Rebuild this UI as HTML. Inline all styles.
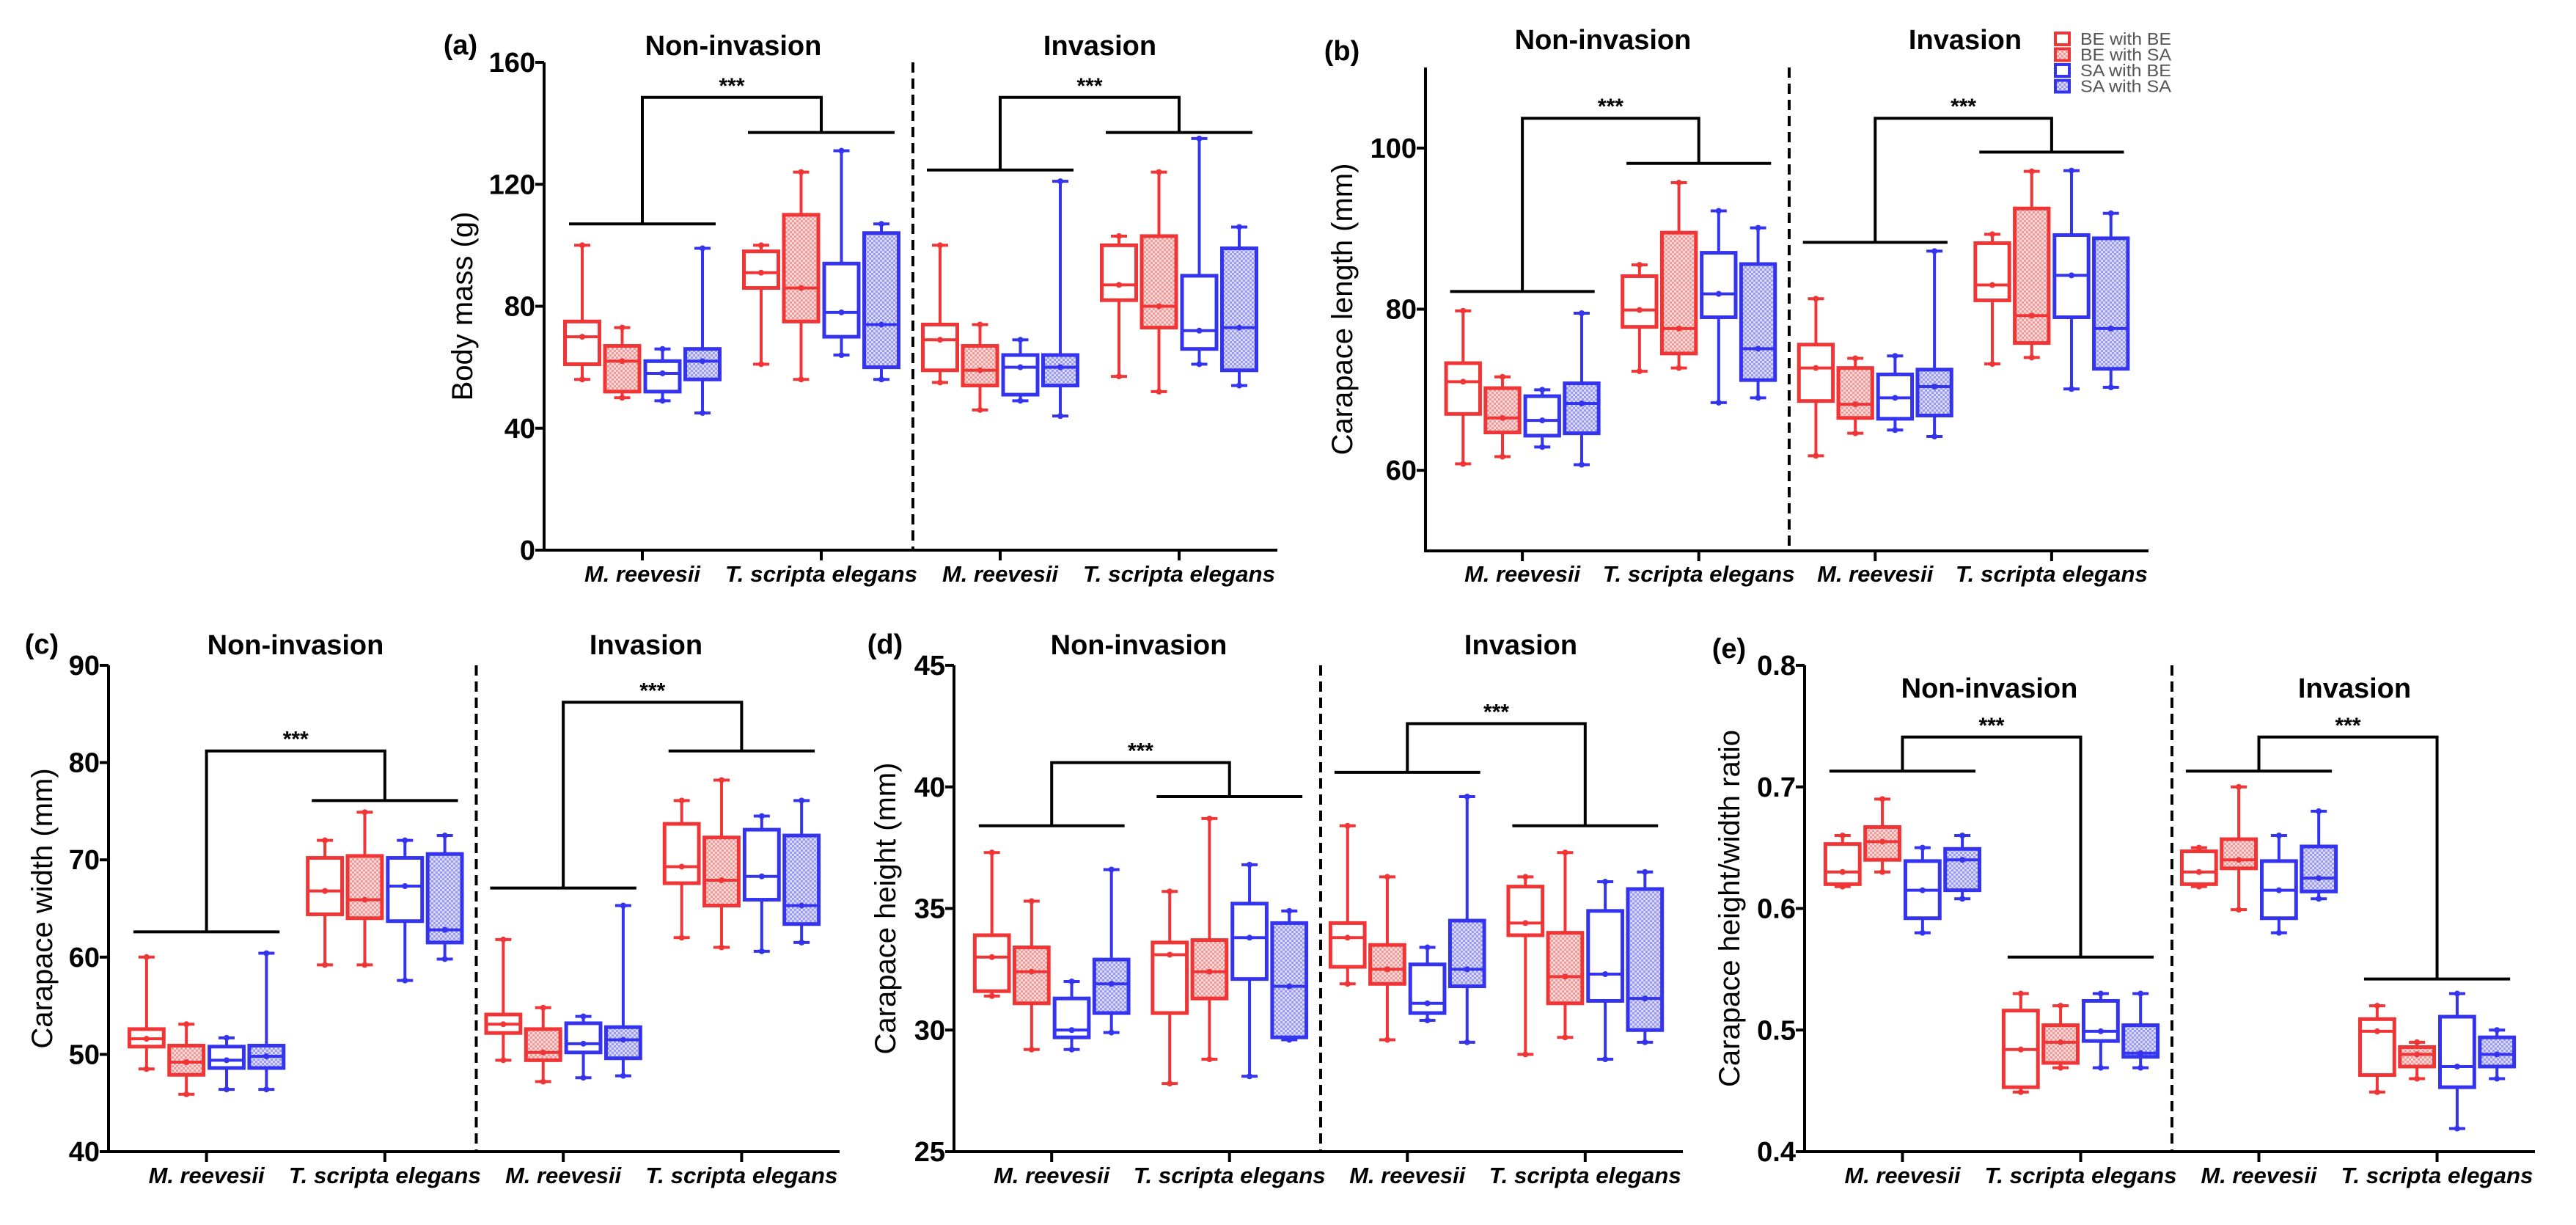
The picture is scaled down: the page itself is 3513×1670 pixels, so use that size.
<!DOCTYPE html>
<html><head><meta charset="utf-8">
<style>
html,body{margin:0;padding:0;background:#fff;}
svg{display:block;font-family:"Liberation Sans",Arial,sans-serif;}
</style></head>
<body>
<svg id="fig" width="3513" height="1670" viewBox="0 0 3513 1670" xmlns="http://www.w3.org/2000/svg">
<defs>
<pattern id="hatR" width="6" height="6" patternUnits="userSpaceOnUse"><rect width="6" height="6" fill="#fbdada"/><rect width="3" height="3" fill="#f29a9a"/><rect x="3" y="3" width="3" height="3" fill="#f29a9a"/></pattern>
<pattern id="hatB" width="6" height="6" patternUnits="userSpaceOnUse"><rect width="6" height="6" fill="#dadafb"/><rect width="3" height="3" fill="#9a9af2"/><rect x="3" y="3" width="3" height="3" fill="#9a9af2"/></pattern>
</defs>
<g id="root"></g>
</svg>
<script>
// Box stats per panel: [min, q1, median, q3, max]; 4 groups x 4 series (BE-BE, BE-SA, SA-BE, SA-SA)
const categories = ["M. reevesii","T. scripta elegans","M. reevesii","T. scripta elegans"];
const seriesNames = ["BE with BE","BE with SA","SA with BE","SA with SA"];
const dataA = [
 [[56,61,70,75,100],[50,52,62,67,73],[49,52,58,62,66],[45,56,62,66,99]],
 [[61,86,91,98,100],[56,75,86,110,124],[64,70,78,94,131],[56,60,74,104,107]],
 [[55,59,69,74,100],[46,54,59,67,74],[49,51,60,64,69],[44,54,60,64,121]],
 [[57,82,87,100,103],[52,73,80,103,124],[61,66,72,90,135],[54,59,73,99,106]]];
const dataB = [
 [[60.8,67,71,73.3,79.8],[61.7,64.7,66.5,70.2,71.6],[62.9,64.3,66.2,69.2,70],[60.7,64.6,68.3,70.8,79.5]],
 [[72.3,77.8,79.9,84.1,85.5],[72.7,74.5,77.6,89.5,95.7],[68.4,79,81.9,87,92.2],[69,71.2,75.1,85.6,90.1]],
 [[61.8,68.6,72.7,75.6,81.3],[64.6,66.5,68.2,72.7,73.9],[65,66.4,69,71.9,74.2],[64.2,66.8,70.4,72.5,87.2]],
 [[73.2,81.1,83,88.2,89.3],[74,75.8,79.2,92.5,97.1],[70.1,79,84.2,89.2,97.2],[70.3,72.6,77.6,88.8,91.9]]];
const dataC = [
 [[48.5,50.8,51.6,52.6,60],[45.9,47.9,49.2,50.9,53.1],[46.4,48.6,49.4,50.8,51.7],[46.4,48.6,49.8,50.9,60.4]],
 [[59.2,64.4,66.8,70.2,72],[59.2,64,65.9,70.4,74.9],[57.6,63.7,67.3,70.2,72],[59.8,61.5,62.8,70.6,72.5]],
 [[49.4,52.2,53.1,54.1,61.8],[47.2,49.4,50.2,52.6,54.8],[47.6,50.2,51.1,53.2,53.9],[47.8,49.6,51.5,52.8,65.3]],
 [[62,67.6,69.3,73.7,76.1],[61,65.3,67.9,72.3,78.2],[60.6,65.9,68.3,73.1,74.5],[61.5,63.4,65.3,72.5,76.1]]];
const dataD = [
 [[31.4,31.6,33,33.9,37.3],[29.2,31.1,32.4,33.4,35.3],[29.2,29.7,30,31.3,32],[29.9,30.7,31.9,32.9,36.6]],
 [[27.8,30.7,33.1,33.6,35.7],[28.8,31.3,32.4,33.7,38.7],[28.1,32.1,33.8,35.2,36.8],[29.6,29.7,31.8,34.4,34.9]],
 [[31.9,32.6,33.8,34.4,38.4],[29.6,31.9,32.5,33.5,36.3],[30.4,30.7,31.1,32.7,33.4],[29.5,31.8,32.5,34.5,39.6]],
 [[29,33.9,34.4,35.9,36.3],[29.7,31.1,32.2,34,37.3],[28.8,31.2,32.3,34.9,36.1],[29.5,30,31.3,35.8,36.5]]];
const dataE = [
 [[0.618,0.62,0.63,0.653,0.66],[0.63,0.64,0.655,0.667,0.69],[0.58,0.592,0.615,0.639,0.65],[0.608,0.615,0.64,0.649,0.66]],
 [[0.449,0.453,0.484,0.516,0.53],[0.469,0.473,0.49,0.504,0.52],[0.469,0.491,0.499,0.524,0.53],[0.469,0.478,0.481,0.504,0.53]],
 [[0.618,0.62,0.63,0.647,0.65],[0.599,0.633,0.64,0.657,0.70],[0.58,0.592,0.615,0.639,0.66],[0.608,0.614,0.625,0.651,0.68]],
 [[0.449,0.463,0.499,0.509,0.52],[0.46,0.47,0.48,0.486,0.49],[0.419,0.453,0.47,0.511,0.53],[0.46,0.47,0.48,0.494,0.50]]];
// brackets: [left group bar, right group bar, top] for non-invasion and invasion
const bracketsA = [[107,137,148.5],[124.7,137,148.5]];
const bracketsB = [[82.2,98.1,103.7],[88.3,99.5,103.7]];
const bracketsC = [[62.6,76.1,81.2],[67.1,81.2,86.2]];
const bracketsD = [[38.4,39.6,41],[40.6,38.4,42.6]];
const bracketsE = [[0.713,0.56,0.741],[0.713,0.542,0.741]];
const ticksA = [0,40,80,120,160];
const ticksB = [60,80,100];
const ticksC = [40,50,60,70,80,90];
const ticksD = [25,30,35,40,45];
const ticksE = [0.4,0.5,0.6,0.7,0.8];

const panels = [
 {id:"a",x0:742,x1:1742,yT:85,yB:750,vmin:0,vmax:160,ticks:ticksA,fmt:v=>v,data:dataA,br:bracketsA,ytitle:"Body mass (g)",ytx:630,lab:[628,61],tY:61,tX:[1000,1500],catY:782},
 {id:"b",x0:1944,x1:2930,yT:92,yB:751,vmin:50,vmax:110,ticks:ticksB,fmt:v=>v,data:dataB,br:bracketsB,ytitle:"Carapace length (mm)",ytx:1830,lab:[1830,69],tY:53,tX:[2186,2680],catY:782},
 {id:"c",x0:148,x1:1145,yT:907,yB:1570,vmin:40,vmax:90,ticks:ticksC,fmt:v=>v,data:dataC,br:bracketsC,ytitle:"Carapace width (mm)",ytx:57,lab:[57,878],tY:878,tX:[403,881],catY:1602},
 {id:"d",x0:1301,x1:2295,yT:907,yB:1570,vmin:25,vmax:45,ticks:ticksD,fmt:v=>v,data:dataD,br:bracketsD,ytitle:"Carapace height (mm)",ytx:1207,lab:[1207,878],tY:878,tX:[1553,2074],catY:1602},
 {id:"e",x0:2461,x1:3457,yT:907,yB:1570,vmin:0.4,vmax:0.8,ticks:ticksE,fmt:v=>v.toFixed(1),data:dataE,br:bracketsE,ytitle:"Carapace height/width ratio",ytx:2358,lab:[2358,884],tY:937,tX:[2713,3211],catY:1602}
];
const RED="#ef3535", BLUE="#3434ef";
const NS="http://www.w3.org/2000/svg";
const root=document.getElementById("root");
function mk(tag,attrs,parent){const e=document.createElementNS(NS,tag);for(const k in attrs)e.setAttribute(k,attrs[k]);(parent||root).appendChild(e);return e;}
function txt(s,attrs,parent){const e=mk("text",attrs,parent);e.textContent=s;return e;}

panels.forEach(p=>{
  const g=mk("g",{});
  
  
  const W=p.x1-p.x0;
  const ys=v=>p.yB-(v-p.vmin)/(p.vmax-p.vmin)*(p.yB-p.yT);
  const cx=i=>p.x0+W*(0.134+0.244*i);
  const offs=[-0.082,-0.0275,0.0275,0.082];
  const bw=W*0.047;
  // axes
  const ya=mk("line",{x1:p.x0,y1:p.yT,x2:p.x0,y2:p.yB+2,stroke:"#000","stroke-width":4},g);
  
  const xa=mk("line",{x1:p.x0-2,y1:p.yB,x2:p.x1,y2:p.yB,stroke:"#000","stroke-width":4},g);
  
  p.ticks.forEach(t=>{
    const y=ys(t);
    mk("line",{x1:p.x0-12,y1:y,x2:p.x0,y2:y,stroke:"#000","stroke-width":4},g);
    const tl=txt(p.fmt(t),{x:p.x0-12,y:y+13,"text-anchor":"end","font-size":38,"font-weight":"bold"},g);
    
  });
  categories.forEach((c,i)=>{
    mk("line",{x1:cx(i),y1:p.yB,x2:cx(i),y2:p.yB+14,stroke:"#000","stroke-width":4},g);
    const cl=txt(c,{x:cx(i),y:p.catY+11,"text-anchor":"middle","font-size":31,"font-weight":"bold","font-style":"italic",textLength:(c.length>12?262:158),lengthAdjust:"spacingAndGlyphs"},g);
    
  });
  // dashed divider
  const dx=p.x0+W*0.503;
  const dl=mk("line",{x1:dx,y1:p.yT+(p.id==="e"?0:0),x2:dx,y2:p.yB,stroke:"#000","stroke-width":4,"stroke-dasharray":"14 8"},g);
  
  // titles
  const yt=txt(p.ytitle,{x:0,y:0,"text-anchor":"middle","font-size":40,transform:`translate(${p.ytx+14},${(p.yT+p.yB)/2}) rotate(-90)`},g);
  
  const pl=txt("("+p.id+")",{x:p.lab[0],y:p.lab[1]+13,"text-anchor":"middle","font-size":38,"font-weight":"bold"},g);
  
  ["Non-invasion","Invasion"].forEach((t,i)=>{
    const te=txt(t,{x:p.tX[i],y:p.tY+14,"text-anchor":"middle","font-size":38,"font-weight":"bold"},g);
    
  });
  // brackets
  p.br.forEach((b,h)=>{
    const gl=cx(2*h), gr=cx(2*h+1), hw=W*0.1;
    const bg=mk("g",{stroke:"#000","stroke-width":4,fill:"none"},g);
    
    mk("line",{x1:gl-hw,y1:ys(b[0]),x2:gl+hw,y2:ys(b[0])},bg);
    mk("line",{x1:gr-hw,y1:ys(b[1]),x2:gr+hw,y2:ys(b[1])},bg);
    mk("polyline",{points:`${gl},${ys(b[0])} ${gl},${ys(b[2])} ${gr},${ys(b[2])} ${gr},${ys(b[1])}`},bg);
    const st=txt("***",{x:(gl+gr)/2,y:ys(b[2])-6,"text-anchor":"middle","font-size":30,"font-weight":"bold"},g);
    
  });
  // boxes
  p.data.forEach((grp,i)=>{
    grp.forEach((s,j)=>{
      const col=j<2?RED:BLUE;
      const x=cx(i)+W*offs[j];
      const bx=mk("g",{stroke:col,"stroke-width":4},g);
      
      
      mk("line",{x1:x,y1:ys(s[0]),x2:x,y2:ys(s[4])},bx);
      mk("line",{x1:x-11,y1:ys(s[0]),x2:x+11,y2:ys(s[0])},bx);
      mk("line",{x1:x-11,y1:ys(s[4]),x2:x+11,y2:ys(s[4])},bx);
      const fill=(j%2===1)?(j<2?"url(#hatR)":"url(#hatB)"):"#fff";
      mk("rect",{x:x-bw/2,y:ys(s[3]),width:bw,height:Math.max(2,ys(s[1])-ys(s[3])),fill:fill,"stroke-width":5},bx);
      mk("line",{x1:x-bw/2,y1:ys(s[2]),x2:x+bw/2,y2:ys(s[2]),"stroke-width":4},bx);
      [s[0],s[2],s[4]].forEach(v=>mk("circle",{cx:x,cy:ys(v),r:4,fill:col,stroke:"none"},bx));
    });
  });
});
// legend
const lg=mk("g",{});


seriesNames.forEach((n,j)=>{
  const y=53+j*21.5;
  const col=j<2?RED:BLUE;
  const e=mk("g",{},lg);
  
  
  mk("rect",{x:2803,y:y-8,width:19,height:16,fill:(j%2===1)?(j<2?"url(#hatR)":"url(#hatB)"):"#fff",stroke:col,"stroke-width":4},e);
  txt(n,{x:2837,y:y+8,"font-size":23,fill:"#555",textLength:124,lengthAdjust:"spacingAndGlyphs"},e);
});
</script>
</body></html>
